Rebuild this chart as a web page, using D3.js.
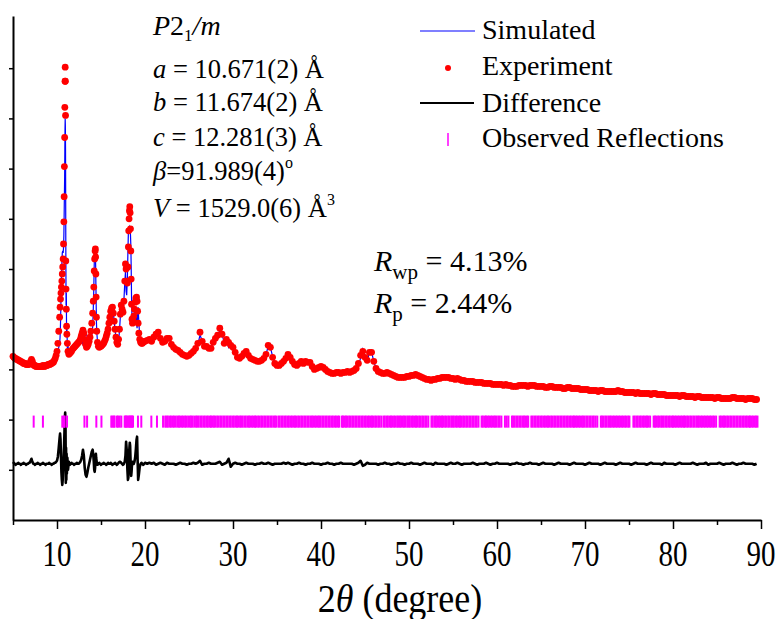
<!DOCTYPE html>
<html>
<head>
<meta charset="utf-8">
<script src="https://cdn.jsdelivr.net/npm/d3@7"></script>
<style>
  body { margin: 0; background: #fff; }
  svg text { font-family: "Liberation Serif", "Times New Roman", Times, "DejaVu Serif", serif; fill: #000; }
</style>
</head>
<body>
<svg width="777" height="619"></svg>
<script>
// low angle part of the scan (5-20 deg), read point by point, intensity in a.u.
var lowTheta = [
  5.0,5.1,5.2,5.3,5.4,5.5,5.6,5.7,5.8,5.9,
  6.0,6.1,6.2,6.3,6.4,6.5,6.6,6.7,6.8,6.9,
  7.0,7.1,7.2,7.3,7.4,7.5,7.6,7.7,7.8,7.9,
  8.0,8.1,8.2,8.3,8.4,8.5,8.6,8.7,8.8,8.9,
  9.0,9.1,9.2,9.3,9.4,9.5,9.6,9.7,9.8,9.9,
  10.0,10.1,10.2,10.3,10.35,10.4,10.45,10.5,10.55,10.6,10.65,10.7,10.74,10.78,10.81,10.84,10.87,10.89,10.91,10.93,10.95,10.97,
  11.0,11.03,11.06,11.09,11.12,11.18,11.25,11.35,11.45,11.55,11.65,11.75,11.85,11.95,
  12.05,12.15,12.25,12.35,12.45,12.55,12.65,12.75,12.85,12.95,
  13.05,13.15,13.25,13.35,13.45,13.55,13.65,13.75,13.85,13.95,
  14.05,14.12,14.18,14.23,14.28,14.33,14.36,14.39,14.42,14.45,14.48,14.52,14.6,14.7,14.8,14.9,
  15.0,15.1,15.2,15.3,15.4,15.5,15.6,15.7,15.8,15.9,
  16.0,16.1,16.2,16.3,16.4,16.5,16.6,16.7,16.8,16.9,
  17.0,17.1,17.2,17.3,17.4,17.5,17.6,17.7,17.78,17.85,17.92,
  18.0,18.06,18.11,18.15,18.19,18.23,18.27,18.31,18.35,18.39,18.43,18.47,18.52,18.58,18.65,18.72,18.8,18.88,18.96,
  19.04,19.1,19.16,19.22,19.3,19.4,19.5,19.6,19.7,19.8,19.9,
  20.0
];
var lowObs = [
  163,162,161,161,160,160,159,159,158,158,
  157,157,156,156,156,155,155,155,155,156,
  158,160,158,155,154,154,153,153,153,153,
  153,153,153,153,154,153,153,154,154,154,
  155,155,155,156,156,157,157,159,161,164,
  168,176,188,202,212,220,226,232,238,245,252,260,275,297,322,352,381,411,437,451,437,403,
  258,230,210,193,185,176,168,165,166,167,168,170,171,172,
  173,174,175,176,177,178,180,183,186,189,
  186,180,175,172,173,175,178,182,188,196,
  206,218,232,248,260,268,270,262,245,222,202,188,177,173,172,173,
  173,174,175,176,178,180,183,186,190,196,
  202,208,211,212,206,198,190,182,177,175,
  180,190,205,214,210,207,218,238,255,250,238,
  236,252,272,288,300,308,312,306,290,268,240,215,200,196,198,203,210,217,221,
  222,218,208,196,186,180,177,176,176,177,178,
  178
];
var lowDiff = [
  56,57,56,55,56,56,57,56,56,55,
  56,56,57,56,56,55,56,56,57,57,
  59,61,58,56,56,55,56,56,57,56,
  56,55,56,56,57,56,56,55,56,56,
  56,57,56,56,55,56,56,57,57,58,
  59,63,72,82,86,80,64,48,40,35,40,50,60,70,76,85,95,100,104,107,100,90,
  37,72,40,66,46,62,50,58,55,56,57,56,56,55,
  56,56,57,56,56,57,58,60,64,70,
  64,52,45,43,47,52,56,60,64,68,
  70,65,58,50,48,52,58,64,66,62,60,57,55,56,57,56,
  55,56,56,57,56,56,55,56,57,56,
  56,57,56,55,56,56,57,56,55,56,
  57,58,58,57,56,55,56,58,64,78,70,
  50,40,42,55,66,72,77,74,62,50,44,48,55,58,57,56,58,62,70,
  80,83,60,40,45,53,56,57,56,55,56,
  57
];

// rest of the scan, constant 2theta step
var highStart = 20.25, highStep = 0.25;
var highObs = [
  179,180,178,
  182,185,187,181, 177,178,181,181, 175,172,170,169, 167,165,164,163,
  164,166,168,171, 176,187,178,173, 173,171,171,177, 181,184,191,185,
  176,180,177,174, 172,167,162,161, 163,166,168,164, 161,160,159,158,
  158,159,161,165, 174,172,162,156, 154,154,156,158, 161,165,162,158,
  155,154,156,158, 156,158,157,157, 153,150,151,152, 153,152,150,148,
  147,146,146,147, 147,146,147,147, 148,147,148,149, 151,156,164,168,
  162,159,167,167, 158,151,148,147, 146,146,147,146, 145,144,143,142,
  142,142,142,143, 143,144,144,145, 144,143,142,141,
  140,140,139,140, 140,141,141,142, 142,142,142,141, 141,140,141,140,
  139,139,138,138, 138,138,137,137, 137,137,136,136, 136,136,135,135,
  135,135,135,134, 135,134,134,133, 133,133,134,134, 134,134,133,134,
  134,134,133,133, 133,133,132,132, 133,133,132,132, 132,132,131,131,
  132,132,131,131, 131,131,130,130, 130,130,129,129, 129,129,128,129,
  129,128,128,128, 128,128,128,129, 128,128,127,127, 127,127,127,126,
  127,126,126,126, 126,126,125,126, 126,125,125,125, 125,124,124,124,
  124,124,124,123, 124,124,123,123, 123,123,122,123, 123,122,122,122,
  122,122,122,121, 122,122,121,121, 121,121,121,122, 122,121,121,121,
  121,120,121,121,
  121,120,120
];
var highDiff = [
  56,57,56,
  57,55,56,57, 56,55,57,56, 56,56,55,56, 57,56,56,55,
  56,56,57,56, 57,59,55,56, 56,57,56,56, 56,57,58,55,
  56,57,61,53, 56,57,56,56, 55,56,57,56, 56,56,55,56,
  56,57,56,56, 57,56,55,56, 56,56,56,57, 56,57,56,55,
  56,56,57,56, 56,55,56,56, 57,56,56,56, 55,56,56,57,
  56,56,55,56, 56,57,56,56, 56,56,56,55, 56,57,59,54,
  55,57,56,56, 56,56,55,56, 56,57,56,56, 55,56,56,57,
  56,56,55,56, 56,57,56,56, 56,55,56,57,
  56,56,56,55, 57,56,56,56, 56,55,56,57, 56,56,57,56,
  55,56,56,56, 56,57,56,55, 56,56,56,57, 56,55,56,56,
  57,56,56,56, 56,56,55,56, 56,57,56,56, 55,56,56,57,
  56,56,56,55, 56,57,56,56, 56,56,55,56, 57,56,56,56,
  56,55,56,57, 56,56,56,56, 55,56,57,56, 56,56,56,55,
  56,57,56,56, 56,56,55,56, 57,56,56,56, 56,55,56,57,
  56,56,56,56, 55,56,57,56, 56,56,56,55, 57,56,56,56,
  56,55,56,57, 56,56,56,56, 56,57,56,55, 56,56,56,57,
  55,56,56,56, 56,57,56,55, 56,56,56,57, 56,55,56,56,
  57,56,56,56,
  56,55,56
];
var diffBase = 56;

// Bragg reflection positions (2theta, deg)
var reflections = [
  7.35,8.4,10.6,10.78,10.87,11.14,13.12,13.42,14.47,15.05,
  16.17,16.3,16.45,16.55,16.82,16.95,17.12,17.31,17.69,17.8,17.88,18.0,18.14,18.25,18.33,18.45,18.52,18.64,
  19.2,19.58,20.72,21.36,
  22.05,22.3,22.45,22.6,22.8,22.95, 23.15,23.3,23.5,23.7,23.85, 24.0,24.2,24.35,24.55,24.7,24.9,
  25.1,25.25,25.4,25.6,25.8,25.95, 26.1,26.3,26.45,26.65,26.8, 27.0,27.15,27.35,27.5,27.7,27.85,
  28.0,28.2,28.35,28.55,28.7,28.9, 29.05,29.25,29.4,29.6,29.75,29.95, 30.1,30.3,30.45,30.6,30.8,30.95,
  31.1,31.3,31.45,31.65,31.8,31.95, 32.15,32.3,32.5,32.65,32.85, 33.0,33.2,33.35,33.55,33.7,33.9,
  34.05,34.25,34.4,34.6,34.75,34.9, 35.15,35.3,35.5,35.65,35.85, 36.0,36.2,36.35,36.55,36.7,36.9,
  37.05,37.2,37.4,37.55,37.75,37.9, 38.1,38.25,38.45,38.6,38.8,38.95, 39.1,39.3,39.45,39.65,39.8,39.95,
  40.15,40.3,40.5,40.65,40.85, 41.0,41.2,41.35,41.55,41.7,41.9, 42.05,42.35,42.5,42.7,42.85,
  43.0,43.2,43.35,43.55,43.7,43.9, 44.05,44.25,44.4,44.6,44.75,44.95, 45.1,45.3,45.45,45.65,45.8,45.95,
  46.15,46.3,46.5,46.65,46.85, 47.1,47.25,47.45,47.6,47.8,47.95, 48.1,48.3,48.45,48.65,48.8,48.95,
  49.1,49.3,49.45,49.6,49.8,49.95, 50.1,50.3,50.45,50.65,50.8,50.95, 51.15,51.3,51.5,51.65,51.85,
  52.0,52.2,52.55,52.7,52.9, 53.05,53.2,53.4,53.55,53.75,53.9, 54.1,54.25,54.45,54.6,54.8,54.95,
  55.1,55.3,55.45,55.65,55.8,55.95, 56.15,56.3,56.5,56.65,56.85, 57.0,57.2,57.35,57.55,57.7,57.9,
  58.25,58.4,58.6,58.75,58.95, 59.1,59.3,59.45,59.65,59.8,59.95, 60.15,60.3,60.5,60.9,
  61.1,61.3,61.7,61.85, 62.0,62.2,62.35,62.55,62.7,62.9, 63.05,63.2,63.4,63.55,63.9,
  64.05,64.25,64.4,64.6,64.75,64.95, 65.1,65.3,65.45,65.65,65.8,65.95, 66.15,66.3,66.5,66.65,66.85,
  67.0,67.2,67.35,67.55,67.7,67.9, 68.05,68.25,68.4,68.6,68.75,68.95, 69.1,69.3,69.45,69.65,69.8,69.95,
  70.15,70.3,70.5,70.65,70.85, 71.0,71.2,71.4,71.8,71.95, 72.1,72.3,72.45,72.65,72.8,72.95,
  73.15,73.3,73.5,73.65,73.85, 74.0,74.2,74.35,74.55,74.7,74.9, 75.05,75.5,75.65,75.85,
  76.0,76.2,76.35,76.55,76.7,76.9, 77.05,77.2,77.4,77.8,77.95, 78.1,78.3,78.45,78.65,78.8,78.95,
  79.15,79.3,79.5,79.65,79.85, 80.0,80.2,80.35,80.55,80.7,80.9, 81.05,81.25,81.4,81.6,81.75,81.95,
  82.1,82.3,82.45,82.65,82.8,82.95, 83.15,83.3,83.5,83.65,83.85, 84.0,84.2,84.35,84.55,84.7,84.9,
  85.3,85.45,85.65,85.8,85.95, 86.15,86.3,86.5,86.65,86.85, 87.0,87.2,87.35,87.55,87.7,87.9,
  88.05,88.25,88.4,88.6,88.75,88.95, 89.1,89.3,89.45,89.6
];

var xTicks = [10, 20, 30, 40, 50, 60, 70, 80, 90];
var xMinorTicks = [5, 15, 25, 35, 45, 55, 65, 75, 85];
var yTicks = [50, 100, 150, 200, 250, 300, 350, 400, 450];

var svg = d3.select("svg");

var x = d3.scaleLinear().domain([5, 90]).range([13, 761]);
var y = d3.scaleLinear().domain([0, 502]).range([520, 16]);

var scan = lowTheta.map(function(t, i) {
  return {t: t, obs: lowObs[i], diff: lowDiff[i]};
}).concat(highObs.map(function(v, i) {
  return {t: highStart + i * highStep, obs: v, diff: highDiff[i]};
}));
// difference = obs - calc
scan.forEach(function(d) { d.calc = d.obs - (d.diff - diffBase); });

// simulated profile (under the dots)
svg.append("path")
    .datum(scan)
    .attr("fill", "none")
    .attr("stroke", "#0000ff")
    .attr("stroke-width", 1.2)
    .attr("d", d3.line().x(function(d) { return x(d.t); }).y(function(d) { return y(d.calc); }));

// experiment
svg.append("g")
  .selectAll("circle")
    .data(scan)
  .enter().append("circle")
    .attr("cx", function(d) { return x(d.t); })
    .attr("cy", function(d) { return y(d.obs); })
    .attr("r", 3.4)
    .attr("fill", "#ff0000");

// difference
svg.append("path")
    .datum(scan)
    .attr("fill", "none")
    .attr("stroke", "#000")
    .attr("stroke-width", 2.6)
    .attr("stroke-linejoin", "round")
    .attr("d", d3.line().x(function(d) { return x(d.t); }).y(function(d) { return y(d.diff); }));

// reflections
svg.append("g")
  .selectAll("line")
    .data(reflections)
  .enter().append("line")
    .attr("x1", function(d) { return x(d); })
    .attr("x2", function(d) { return x(d); })
    .attr("y1", y(104))
    .attr("y2", y(92))
    .attr("stroke", "#ff00ff")
    .attr("stroke-width", 2);

// axes
var gx = svg.append("g").attr("transform", "translate(0,520)");
gx.call(d3.axisBottom(x).tickValues(xTicks).tickSize(9).tickSizeOuter(0).tickFormat(""));
gx.append("g").call(d3.axisBottom(x).tickValues(xMinorTicks).tickSize(5).tickSizeOuter(0).tickFormat(""))
  .select(".domain").remove();

var gy = svg.append("g").attr("transform", "translate(13,0)");
gy.call(d3.axisLeft(y).tickValues(yTicks).tickSize(4).tickSizeOuter(0).tickFormat(""));

svg.selectAll(".domain").attr("stroke", "#000").attr("stroke-width", 2);
svg.selectAll(".tick line").attr("stroke", "#000").attr("stroke-width", 1.5);

// tick labels, drawn a little taller than the font as in the original export
svg.append("g")
  .selectAll("text")
    .data(xTicks)
  .enter().append("text")
    .attr("transform", function(d) { return "translate(" + x(d) + ",566) scale(1,1.25)"; })
    .attr("text-anchor", "middle")
    .attr("font-size", 29)
    .text(function(d) { return d; });

var xt = svg.append("text").attr("transform", "translate(400,612) scale(1,1.1)")
    .attr("text-anchor", "middle").attr("font-size", 36);
xt.append("tspan").text("2");
xt.append("tspan").attr("font-style", "italic").text("\u03b8");
xt.append("tspan").text(" (degree)");

// cell parameters
var p = svg.append("text").attr("x", 153).attr("y", 35).attr("font-size", 28);
p.append("tspan").attr("font-style", "italic").text("P");
p.append("tspan").text("2");
p.append("tspan").attr("font-size", 17).attr("dy", 6).text("1");
p.append("tspan").attr("dy", -6).attr("font-style", "italic").text("/m");

var cellLines = [
  {sym: "a", val: " = 10.671(2) \u00c5", sup: "", base: 78},
  {sym: "b", val: " = 11.674(2) \u00c5", sup: "", base: 111},
  {sym: "c", val: " = 12.281(3) \u00c5", sup: "", base: 146},
  {sym: "\u03b2", val: "=91.989(4)", sup: "o", base: 180},
  {sym: "V", val: " = 1529.0(6) \u00c5", sup: "3", base: 217}
];
cellLines.forEach(function(l) {
  var t = svg.append("text").attr("x", 153).attr("y", l.base).attr("font-size", 26.5);
  t.append("tspan").attr("font-style", "italic").text(l.sym);
  t.append("tspan").text(l.val);
  if (l.sup) t.append("tspan").attr("font-size", 16).attr("dy", -12).text(l.sup);
});

// R factors
var rwp = svg.append("text").attr("x", 374).attr("y", 271).attr("font-size", 30);
rwp.append("tspan").attr("font-style", "italic").text("R");
rwp.append("tspan").attr("font-size", 21).attr("dy", 8).text("wp");
rwp.append("tspan").attr("dy", -8).text(" = 4.13%");
var rp = svg.append("text").attr("x", 374).attr("y", 313).attr("font-size", 30);
rp.append("tspan").attr("font-style", "italic").text("R");
rp.append("tspan").attr("font-size", 21).attr("dy", 8).text("p");
rp.append("tspan").attr("dy", -8).text(" = 2.44%");

// legend
var lg = svg.append("g");
lg.append("line").attr("x1", 420).attr("x2", 475).attr("y1", 31).attr("y2", 31)
  .attr("stroke", "#0000ff").attr("stroke-width", 1.2);
lg.append("circle").attr("cx", 448).attr("cy", 68).attr("r", 3).attr("fill", "#ff0000");
lg.append("line").attr("x1", 420).attr("x2", 474).attr("y1", 103).attr("y2", 103)
  .attr("stroke", "#000").attr("stroke-width", 2);
lg.append("line").attr("x1", 448).attr("x2", 448).attr("y1", 133).attr("y2", 146)
  .attr("stroke", "#ff00ff").attr("stroke-width", 1.5);
var legendNames = ["Simulated", "Experiment", "Difference", "Observed Reflections"];
var legendBase = [39, 75, 112, 147];
lg.selectAll("text")
    .data(legendNames)
  .enter().append("text")
    .attr("x", 482)
    .attr("y", function(d, i) { return legendBase[i]; })
    .attr("font-size", 28)
    .text(function(d) { return d; });
</script>
</body>
</html>
